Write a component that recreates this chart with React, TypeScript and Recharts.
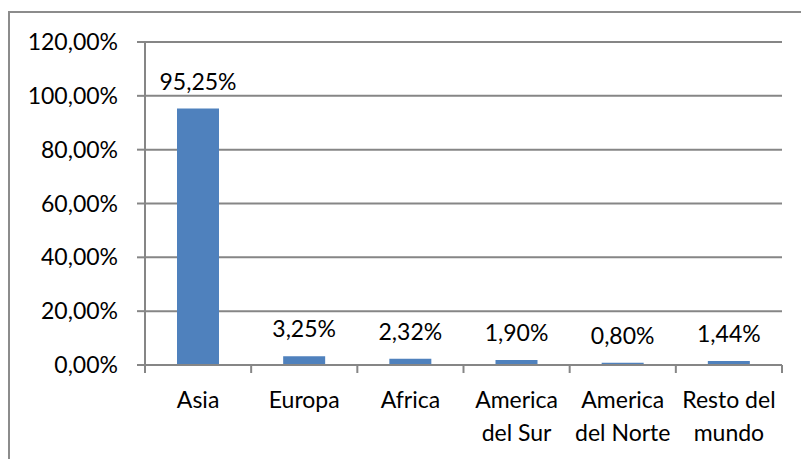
import React from 'react';
import { BarChart, Bar, XAxis, YAxis, CartesianGrid, LabelList } from 'recharts';

const categories = ['Asia', 'Europa', 'Africa', 'America del Sur', 'America del Norte', 'Resto del mundo'];
const categoryLines: string[][] = [
  ['Asia'],
  ['Europa'],
  ['Africa'],
  ['America', 'del Sur'],
  ['America', 'del Norte'],
  ['Resto del', 'mundo'],
];
const values = [95.25, 3.25, 2.32, 1.9, 0.8, 1.44];
const yTicks = [0, 20, 40, 60, 80, 100, 120];

const data = categories.map((c, i) => ({ name: c, value: values[i], idx: i }));

const FONT = 'Lato, "Open Sans", sans-serif';
const GRAY = '#868686';

const fmt = (v: number) => v.toFixed(2).replace('.', ',') + '%';

const AXIS_Y = 365;

const XTick = (props: any) => {
  const { x, payload, index, visibleTicksCount } = props;
  const bw = (782 - 145) / categories.length;
  const i0 = payload.index ?? index;
  const lines = categoryLines[i0] || [payload.value];
  const last = i0 === (visibleTicksCount ?? categories.length) - 1;
  const y = AXIS_Y;
  return (
    <g>
      <line x1={x - bw / 2} x2={x - bw / 2} y1={y} y2={y + 8} stroke={GRAY} strokeWidth={2} />
      {last && <line x1={x + bw / 2} x2={x + bw / 2} y1={y} y2={y + 8} stroke={GRAY} strokeWidth={2} />}
      {lines.map((l: string, i: number) => (
        <text key={i} x={x} y={y + 43 + i * 33} textAnchor="middle" fontFamily={FONT} fontSize={23} fill="#000">
          {l}
        </text>
      ))}
    </g>
  );
};

export default function App() {
  return (
    <div style={{ position: 'absolute', left: 0, top: 0, width: 801, height: 459, background: '#fff', overflow: 'hidden' }}>
      <div
        style={{
          position: 'absolute',
          left: 8,
          top: 11,
          width: 900,
          height: 600,
          borderLeft: '2px solid #8c8c8c',
          borderTop: '2px solid #8c8c8c',
        }}
      />
      <div style={{ position: 'absolute', left: 0, top: 0 }}>
        <BarChart width={801} height={459} data={data} margin={{ top: 42, right: 19, left: 0, bottom: 0 }}>
          <CartesianGrid
            vertical={true}
            verticalPoints={[145]}
            stroke={GRAY}
            strokeWidth={2}
          />
          <XAxis
            dataKey="name"
            tick={<XTick />}
            tickLine={false}
            axisLine={{ stroke: GRAY, strokeWidth: 2 }}
            height={94}
            interval={0}
          />
          <YAxis
            domain={[0, 120]}
            ticks={yTicks}
            width={145}
            tickSize={8}
            tickMargin={19}
            tickLine={{ stroke: GRAY, strokeWidth: 2 }}
            axisLine={{ stroke: GRAY, strokeWidth: 2 }}
            tickFormatter={fmt}
            tick={{ fontFamily: FONT, fontSize: 23, fill: '#000' }}
            interval={0}
          />
          <Bar dataKey="value" fill="#4F81BD" barSize={42} isAnimationActive={false}>
            <LabelList
              dataKey="value"
              position="top"
              offset={19}
              formatter={(v: any) => fmt(Number(v))}
              style={{ fontFamily: FONT, fontSize: 23, fill: '#000' }}
            />
          </Bar>
        </BarChart>
      </div>
    </div>
  );
}
